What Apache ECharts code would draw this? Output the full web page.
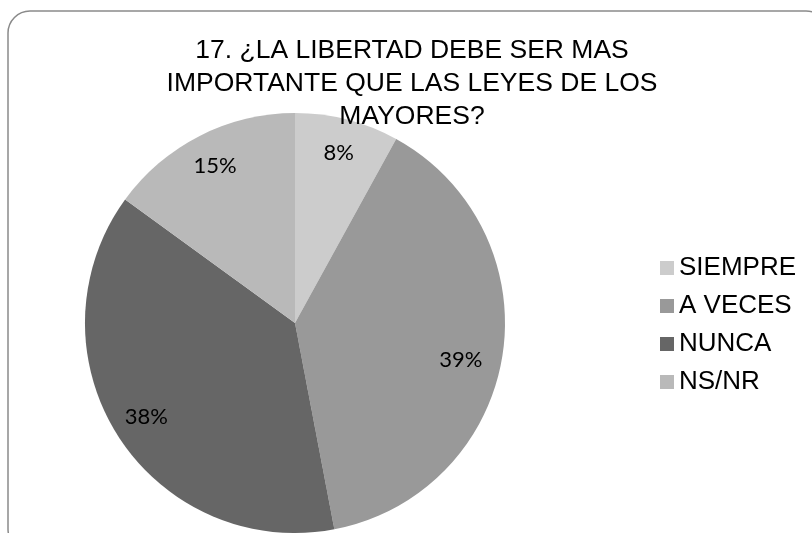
<!DOCTYPE html>
<html>
<head>
<meta charset="utf-8">
<script src="https://cdn.jsdelivr.net/npm/echarts@6/dist/echarts.min.js"></script>
<style>
  html, body { margin: 0; padding: 0; background: #fff; }
  #chart { width: 812px; height: 533px; }
</style>
</head>
<body>
<div id="chart"></div>
<script>
  // datos de la pregunta 17
  const categorias = ['SIEMPRE', 'A VECES', 'NUNCA', 'NS/NR'];
  const porcentajes = [8, 39, 38, 15];
  const colores = ['#cccccc', '#999999', '#666666', '#b9b9b9'];

  const datos = categorias.map((name, i) => ({
    name: name,
    value: porcentajes[i],
    itemStyle: { color: colores[i] }
  }));

  const chart = echarts.init(document.getElementById('chart'));

  const option = {
    backgroundColor: '#fff',
    animation: false,
    color: colores,
    title: {
      text: '17. ¿LA LIBERTAD DEBE SER MAS\nIMPORTANTE QUE LAS LEYES DE LOS\nMAYORES?',
      left: 407,
      top: 29,
      textAlign: 'center',
      textStyle: {
        fontFamily: 'Liberation Sans, Arial',
        fontSize: 26.5,
        fontWeight: 'normal',
        lineHeight: 33,
        color: '#000'
      }
    },
    legend: {
      orient: 'vertical',
      left: 655,
      top: 250,
      itemWidth: 14,
      itemHeight: 14,
      itemGap: 12,
      icon: 'rect',
      data: categorias,
      textStyle: {
        fontFamily: 'Liberation Sans, Arial',
        fontSize: 26,
        lineHeight: 26,
        color: '#000'
      }
    },
    graphic: [{
      type: 'rect',
      shape: { x: 8, y: 11, width: 820, height: 540, r: 22 },
      style: { fill: 'none', stroke: '#8a8a8a', lineWidth: 1.5 },
      z: -1
    }],
    series: [
      {
        // sectores
        type: 'pie',
        center: [295, 323],
        radius: [0, 210],
        startAngle: 90,
        silent: true,
        label: { show: false },
        labelLine: { show: false },
        itemStyle: { borderWidth: 0 },
        data: datos
      },
      {
        // etiquetas de porcentaje
        type: 'pie',
        center: [295, 323],
        radius: [136, 210],
        startAngle: 90,
        silent: true,
        itemStyle: { color: 'rgba(0,0,0,0)', borderWidth: 0 },
        label: {
          show: true,
          position: 'inside',
          formatter: '{c}%',
          fontFamily: 'Lato, Open Sans',
          fontSize: 22,
          color: '#000'
        },
        labelLine: { show: false },
        // excel baja un poco la etiqueta de A VECES
        labelLayout: function (params) {
          if (params.dataIndex === 1) {
            return { dx: -8, dy: 9 };
          }
        },
        data: categorias.map((name, i) => ({ name: name, value: porcentajes[i] }))
      }
    ]
  };

  chart.setOption(option);
</script>
</body>
</html>
